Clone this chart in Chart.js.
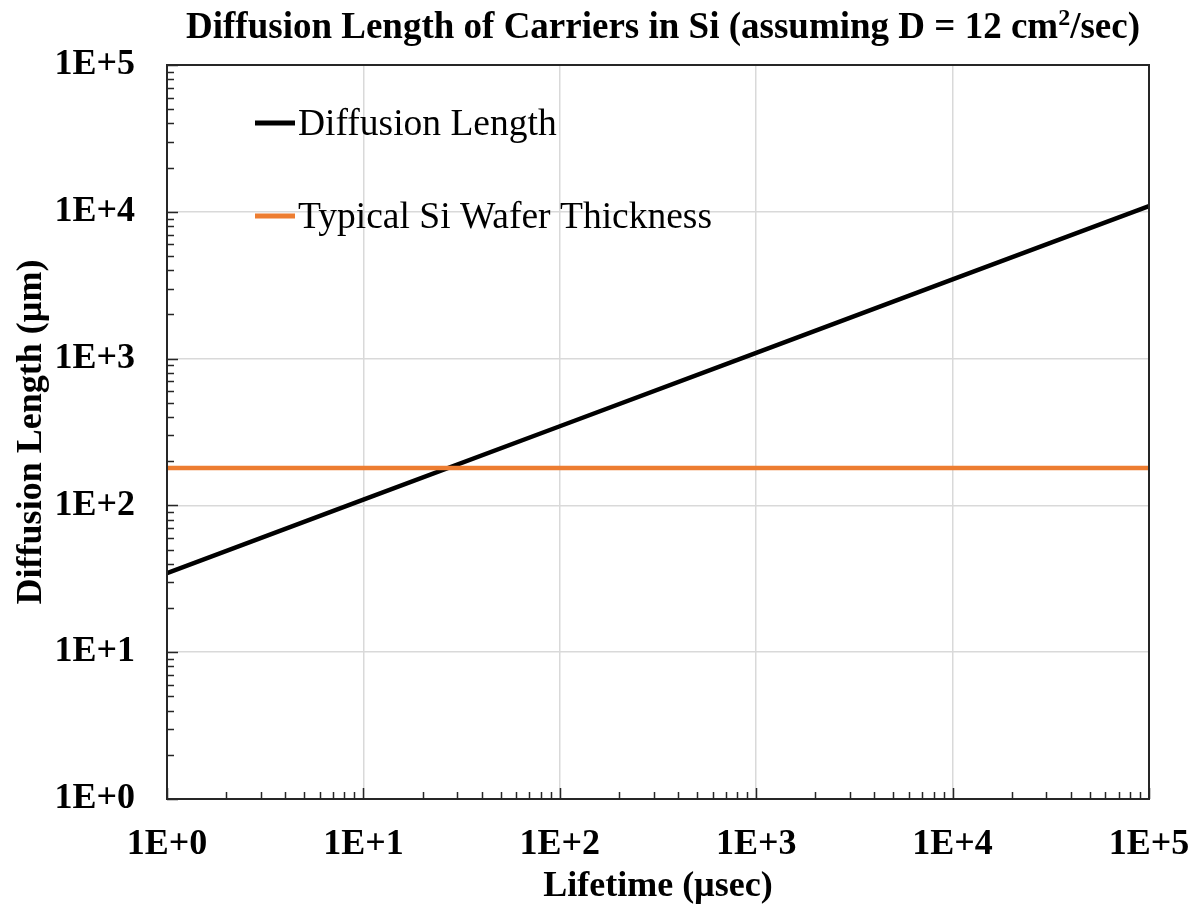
<!DOCTYPE html>
<html>
<head>
<meta charset="utf-8">
<script src="https://cdn.jsdelivr.net/npm/chart.js@4.4.1/dist/chart.umd.min.js"></script>
<style>
  html, body { margin: 0; padding: 0; background: #fff; }
</style>
</head>
<body>
<canvas id="chart" width="1197" height="909"></canvas>
<script>
// lifetime in usec, diffusion length in um
const lifetimes = [1, 10, 100, 1000, 10000, 100000];
const diffusionLength = [34.6, 109.5, 346, 1095, 3464, 10954];
const waferThickness = [180, 180, 180, 180, 180, 180];

const xTickValues = [1, 10, 100, 1000, 10000, 100000];
const xTickLabels = ["1E+0", "1E+1", "1E+2", "1E+3", "1E+4", "1E+5"];
const yTickValues = [1, 10, 100, 1000, 10000, 100000];
const yTickLabels = ["1E+0", "1E+1", "1E+2", "1E+3", "1E+4", "1E+5"];

const seriesNames = ["Diffusion Length", "Typical Si Wafer Thickness"];
const seriesColors = ["#000000", "#ED7D31"];

const FONT = "'Liberation Serif', 'Times New Roman', serif";
const GRID = "#d9d9d9";
const AXIS = "#262626";

// minor ticks, box, legend and title drawn on top of the chart
const decorPlugin = {
  id: "decor",
  afterDraw(chart) {
    const ctx = chart.ctx;
    const area = chart.chartArea;
    const xs = chart.scales.x;
    const ys = chart.scales.y;
    ctx.save();

    // inward ticks
    ctx.strokeStyle = AXIS;
    ctx.lineWidth = 1.5;
    ctx.beginPath();
    for (let d = 1; d < 1e5; d *= 10) {
      for (let m = 1; m <= 10; m++) {
        const v = d * m;
        const len = (m === 1 || m === 10) ? 11 : 7;
        const px = Math.round(xs.getPixelForValue(v)) + 0.5;
        ctx.moveTo(px, area.bottom);
        ctx.lineTo(px, area.bottom - len);
        const py = Math.round(ys.getPixelForValue(v)) + 0.5;
        ctx.moveTo(area.left, py);
        ctx.lineTo(area.left + len, py);
      }
    }
    ctx.stroke();

    // plot frame
    ctx.lineWidth = 2;
    ctx.strokeRect(area.left, area.top, area.right - area.left, area.bottom - area.top);

    // legend inside plot area
    const legendY = [123, 216];
    ctx.font = "37.5px " + FONT;
    ctx.textBaseline = "middle";
    ctx.textAlign = "left";
    seriesNames.forEach((name, i) => {
      ctx.strokeStyle = seriesColors[i];
      ctx.lineWidth = 5;
      ctx.beginPath();
      ctx.moveTo(255, legendY[i]);
      ctx.lineTo(295, legendY[i]);
      ctx.stroke();
      ctx.fillStyle = "#000";
      ctx.fillText(name, 298, legendY[i] + 2);
    });

    // title with superscript
    const part1 = "Diffusion Length of Carriers in Si (assuming D = 12 cm";
    const sup = "2";
    const part2 = "/sec)";
    ctx.textBaseline = "alphabetic";
    ctx.font = "bold 37px " + FONT;
    const w1 = ctx.measureText(part1).width;
    const w3 = ctx.measureText(part2).width;
    ctx.font = "bold 24px " + FONT;
    const w2 = ctx.measureText(sup).width;
    const total = w1 + w2 + w3;
    let tx = (area.left + area.right) / 2 - total / 2 + 5;
    const baseY = 38;
    ctx.font = "bold 37px " + FONT;
    ctx.fillText(part1, tx, baseY);
    tx += w1;
    ctx.font = "bold 24px " + FONT;
    ctx.fillText(sup, tx, baseY - 13);
    tx += w2;
    ctx.font = "bold 37px " + FONT;
    ctx.fillText(part2, tx, baseY);

    ctx.restore();
  }
};

function decadeTicks(values) {
  return (scale) => {
    scale.ticks = values.map((v) => ({ value: v }));
  };
}

const ctx = document.getElementById("chart").getContext("2d");
new Chart(ctx, {
  type: "line",
  data: {
    datasets: [
      {
        label: seriesNames[0],
        data: lifetimes.map((t, i) => ({ x: t, y: diffusionLength[i] })),
        borderColor: seriesColors[0],
        backgroundColor: seriesColors[0],
        borderWidth: 4.5,
        pointRadius: 0,
        fill: false,
        order: 1,
      },
      {
        label: seriesNames[1],
        data: lifetimes.map((t, i) => ({ x: t, y: waferThickness[i] })),
        borderColor: seriesColors[1],
        backgroundColor: seriesColors[1],
        borderWidth: 4.5,
        pointRadius: 0,
        fill: false,
        order: 0,
      },
    ],
  },
  options: {
    responsive: false,
    animation: false,
    devicePixelRatio: 1,
    layout: { padding: { top: 65, right: 48, left: 0, bottom: 0 } },
    plugins: {
      legend: { display: false },
      tooltip: { enabled: false },
      title: { display: false },
    },
    scales: {
      x: {
        type: "logarithmic",
        position: "bottom",
        min: 1,
        max: 100000,
        afterBuildTicks: decadeTicks(xTickValues),
        afterFit: (scale) => {
          scale.height = 110;
          scale.paddingLeft = 0;
          scale.paddingRight = 0;
        },
        grid: { color: GRID, lineWidth: 1.5, drawTicks: false },
        border: { display: false },
        ticks: {
          autoSkip: false,
          maxRotation: 0,
          padding: 24,
          color: "#000",
          font: { family: FONT, size: 36, weight: "bold" },
          callback: (value, index) => xTickLabels[index],
        },
        title: {
          display: true,
          text: "Lifetime (\u00b5sec)",
          color: "#000",
          font: { family: FONT, size: 36, weight: "bold" },
          padding: { top: 0, bottom: 1 },
        },
      },
      y: {
        type: "logarithmic",
        position: "left",
        min: 1,
        max: 100000,
        afterBuildTicks: decadeTicks(yTickValues),
        afterFit: (scale) => {
          scale.width = 167;
          scale.paddingTop = 0;
          scale.paddingBottom = 0;
        },
        grid: { color: GRID, lineWidth: 1.5, drawTicks: false },
        border: { display: false },
        ticks: {
          autoSkip: false,
          padding: 32,
          color: "#000",
          font: { family: FONT, size: 36, weight: "bold" },
          callback: (value, index) => yTickLabels[index],
        },
        title: {
          display: true,
          text: "Diffusion Length (\u00b5m)",
          color: "#000",
          font: { family: FONT, size: 36, weight: "bold" },
          padding: { top: 10, bottom: 0 },
        },
      },
    },
  },
  plugins: [decorPlugin],
});
</script>
</body>
</html>
